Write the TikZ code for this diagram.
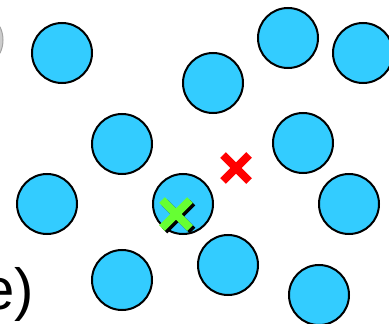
\documentclass[tikz,border=0pt]{standalone}
\usepackage{fontspec}
\setmainfont{Liberation Sans}
\definecolor{ballblue}{HTML}{33CCFF}
\definecolor{ghost}{HTML}{CCCCCC}
\definecolor{xred}{HTML}{FF0000}
\definecolor{xgreen}{HTML}{66FF33}
\definecolor{shade}{HTML}{BBBBBB}
\begin{document}
\begin{tikzpicture}[x=1pt,y=-1pt,
  ball/.style={circle,draw=black,line width=2pt,fill=ballblue,minimum size=60pt,inner sep=0pt},
  ghostball/.style={circle,draw=ghost!80!black,line width=1pt,fill=ghost,minimum size=60pt,inner sep=0pt},
  xstroke/.style={line width=8pt}]
\useasboundingbox (0,0) rectangle (389,324);
\begin{scope}
\clip (0,0) rectangle (389,324);
\node[ghostball] (g) at (-27,40) {};
\node[ball] (b1) at (62,53) {};
\node[ball] (b2) at (288,38) {};
\node[ball] (b3) at (363,53) {};
\node[ball] (b4) at (213,83) {};
\node[ball] (b5) at (122,144) {};
\node[ball] (b6) at (303,143) {};
\node[ball] (b7) at (47,204) {};
\node[ball] (b8) at (183,204) {};
\node[ball] (b9) at (349,204) {};
\node[ball] (b10) at (228,265) {};
\node[ball] (b11) at (122,280) {};
\node[ball] (b12) at (319,295) {};
% red cross
\coordinate (r) at (236,168);
\draw[xstroke,xred] ([shift={(-13,-13)}]r) -- ([shift={(13,13)}]r)
  ([shift={(13,-13)}]r) -- ([shift={(-13,13)}]r);
% green cross with shadow
\coordinate (gx) at (176,214);
\coordinate (gs) at (178.5,216.5);
\draw[xstroke,shade] ([shift={(-14,-14)}]gs) -- ([shift={(14,14)}]gs)
  ([shift={(14,-14)}]gs) -- ([shift={(-14,14)}]gs);
\draw[xstroke,xgreen] ([shift={(-14,-14)}]gx) -- ([shift={(14,14)}]gx)
  ([shift={(14,-14)}]gx) -- ([shift={(-14,14)}]gx);
\node[anchor=base west,inner sep=0pt,font=\fontsize{58pt}{60pt}\selectfont] (t) at (-18,309) {e)};
\end{scope}
\end{tikzpicture}
\end{document}
